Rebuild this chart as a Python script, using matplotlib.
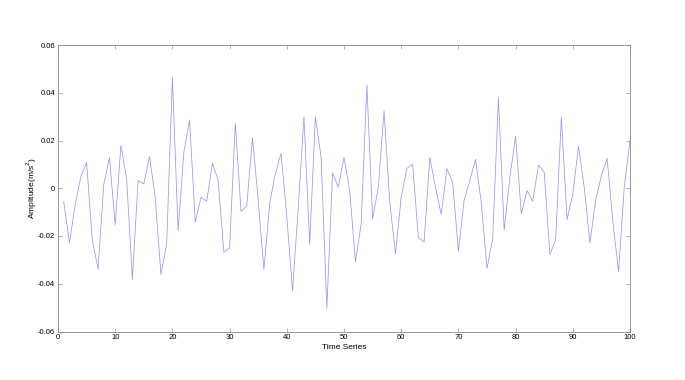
import matplotlib
matplotlib.use("Agg")
import matplotlib.pyplot as plt

x = list(range(1, 101))
amplitude = [
    -0.0056, -0.0229, -0.0070, 0.0050, 0.0108, -0.0218, -0.0338, 0.0015, 0.0129, -0.0153,
    0.0180, 0.0040, -0.0382, 0.0032, 0.0018, 0.0133, -0.0040, -0.0361, -0.0232, 0.0463,
    -0.0179, 0.0150, 0.0286, -0.0143, -0.0038, -0.0054, 0.0106, 0.0032, -0.0268, -0.0249,
    0.0272, -0.0096, -0.0075, 0.0213, -0.0050, -0.0340, -0.0065, 0.0060, 0.0147, -0.0120,
    -0.0429, -0.0080, 0.0299, -0.0235, 0.0299, 0.0129, -0.0503, 0.0065, 0.0005, 0.0129,
    -0.0010, -0.0308, -0.0149, 0.0432, -0.0128, 0.0004, 0.0324, -0.0060, -0.0274, -0.0038,
    0.0083, 0.0101, -0.0207, -0.0225, 0.0129, 0.0004, -0.0110, 0.0082, 0.0025, -0.0264,
    -0.0050, 0.0032, 0.0122, -0.0060, -0.0336, -0.0211, 0.0379, -0.0176, 0.0046, 0.0217,
    -0.0107, -0.0010, -0.0054, 0.0097, 0.0067, -0.0278, -0.0215, 0.0299, -0.0131, -0.0024,
    0.0176, 0.0004, -0.0228, -0.0050, 0.0053, 0.0125, -0.0140, -0.0347, 0.0004, 0.0201,
]
xticks = [0, 10, 20, 30, 40, 50, 60, 70, 80, 90, 100]
yticks = [-0.06, -0.04, -0.02, 0, 0.02, 0.04, 0.06]
ytick_labels = ["-0.06", "-0.04", "-0.02", "0", "0.02", "0.04", "0.06"]

plt.rcParams['font.family'] = ['Liberation Sans', 'DejaVu Sans']

fig = plt.figure(figsize=(6.85, 3.8), dpi=100)
ax = fig.add_axes([58 / 685, 1 - 331.5 / 380, (630 - 58) / 685, (331.5 - 45) / 380])
ax.plot(x, amplitude, color='#9595ff', linewidth=0.55)
ax.set_xlim(0, 100)
ax.set_ylim(-0.06, 0.06)
ax.set_xticks(xticks)
ax.set_xticklabels([str(t) for t in xticks])
ax.set_yticks(yticks)
ax.set_yticklabels(ytick_labels)
ax.tick_params(direction='in', length=3, width=0.5, color='#999999', labelsize=5.5,
               top=True, right=True, pad=2)
for s in ax.spines.values():
    s.set_color('#888888')
    s.set_linewidth(0.6)
ax.set_xlabel('Time Series', fontsize=6, labelpad=2)
ax.set_ylabel('Amplitude(m/s$^2$)', fontsize=6, labelpad=-1)
fig.savefig('out.png', dpi=100)
